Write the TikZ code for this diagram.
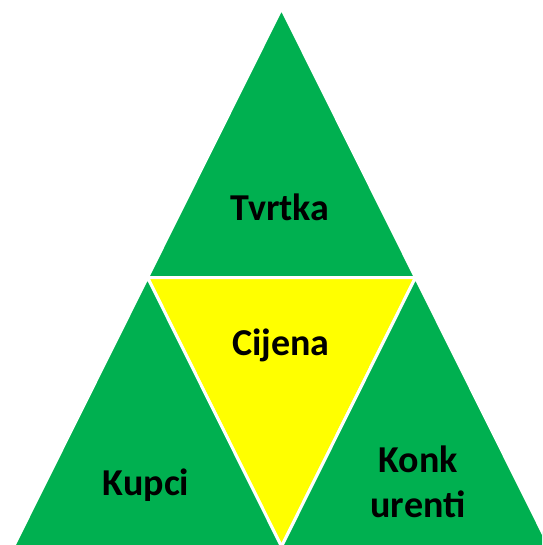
\documentclass[tikz,border=0pt]{standalone}
\usepackage{fontspec}
\setmainfont{Carlito}
\definecolor{tgreen}{HTML}{00B050}
\definecolor{tyellow}{HTML}{FFFF00}
\tikzset{
    piece/.style={draw=white, line width=2.25pt, line join=miter},
    word/.style={anchor=base, font=\fontsize{28.5}{34}\selectfont\bfseries}
}

\begin{document}
\begin{tikzpicture}[x=0.75pt, y=-0.75pt]
    \useasboundingbox (0,0) rectangle (542,545);
    \clip (0,0) rectangle (542,545);
    \coordinate (top) at (281.5,8.5);
    \coordinate (lm) at (147.5,277.5);
    \coordinate (rm) at (415.5,277.5);
    \coordinate (bl) at (13.5,546.5);
    \coordinate (bm) at (281.5,546.5);
    \coordinate (br) at (549.5,546.5);
    \filldraw[piece, fill=tgreen] (top) -- (lm) -- (rm) -- cycle;
    \filldraw[piece, fill=tyellow] (lm) -- (rm) -- (bm) -- cycle;
    \filldraw[piece, fill=tgreen] (lm) -- (bl) -- (bm) -- cycle;
    \filldraw[piece, fill=tgreen] (rm) -- (bm) -- (br) -- cycle;
    \node[word] (tvrtka) at (280,220) {Tvrtka};
    \node[word] (cijena) at (281,355) {Cijena};
    \node[word] (kupci) at (146,495) {Kupci};
    \node[word] (konk) at (418,472) {Konk};
    \node[word] (urenti) at (418,517) {urenti};
\end{tikzpicture}
\end{document}
